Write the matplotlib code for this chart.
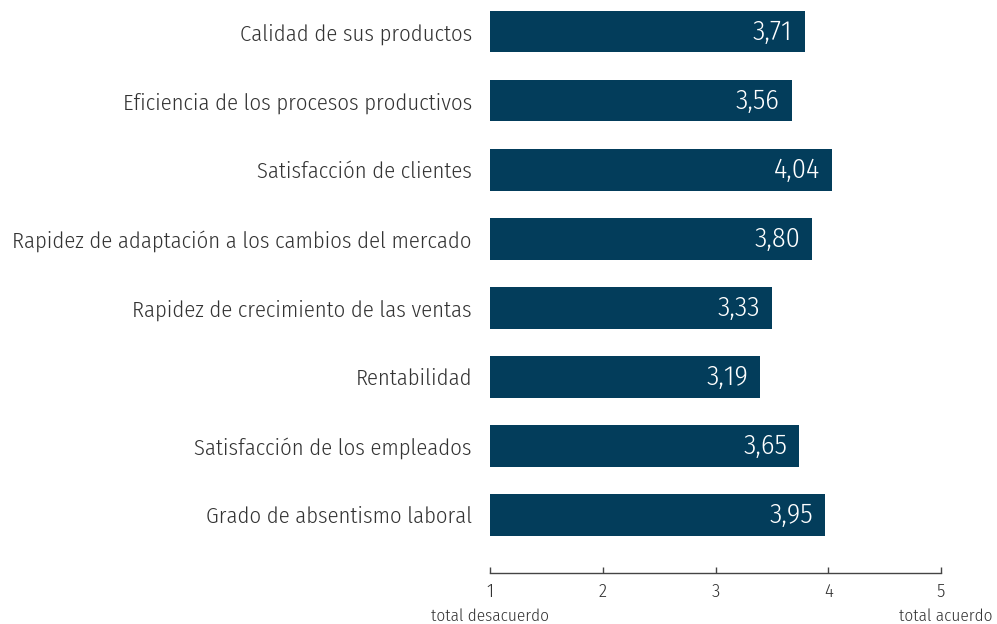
import matplotlib
matplotlib.use("Agg")
import matplotlib.pyplot as plt
import matplotlib.transforms as mtransforms
from matplotlib import font_manager
from matplotlib.font_manager import FontProperties

categories = [
    "Calidad de sus productos",
    "Eficiencia de los procesos productivos",
    "Satisfacción de clientes",
    "Rapidez de adaptación a los cambios del mercado",
    "Rapidez de crecimiento de las ventas",
    "Rentabilidad",
    "Satisfacción de los empleados",
    "Grado de absentismo laboral",
]
values = [3.71, 3.56, 4.04, 3.80, 3.33, 3.19, 3.65, 3.95]
scale_ticks = [1, 2, 3, 4, 5]
scale_ends = ["total desacuerdo", "total acuerdo"]

candidates = ["Open Sans Condensed", "Fira Sans Condensed", "Roboto Condensed",
              "Encode Sans Condensed", "Asap Condensed", "Barlow Semi Condensed",
              "PT Sans Narrow", "Archivo Narrow", "Cabin Condensed"]


def wnum(w):
    if isinstance(w, int):
        return w
    return {"ultralight": 200, "light": 300, "normal": 400, "regular": 400,
            "book": 400, "medium": 500}.get(str(w), 700)


fpath = None
for want in (300, 400):
    for c in candidates:
        for f in font_manager.fontManager.ttflist:
            if f.name == c and f.style == "normal" and wnum(f.weight) == want:
                fpath = f.fname
                break
        if fpath:
            break
    if fpath:
        break


def fp(size):
    if fpath:
        return FontProperties(fname=fpath, size=size)
    return FontProperties(family="DejaVu Sans", size=size)


BAR = "#033d5b"
TXT = "#333333"

W, H = 997, 624
fig = plt.figure(figsize=(W / 100, H / 100), dpi=100)
renderer = fig.canvas.get_renderer()

probe = fig.text(0, 0, categories[3], fontproperties=fp(20))
w20 = probe.get_window_extent(renderer).width
probe.remove()
FS = 20 * 459 / w20
FS_SMALL = FS * 0.76
FS_TICK = FS * 0.84
FS_VAL = FS * 1.25

ax = fig.add_axes([490 / W, (H - 535.7) / H, 451 / W, 524.7 / H])
ax.barh(range(len(categories)), values, height=0.6, left=0, color=BAR)
ax.set_xlim(0, 5.32)
ax.set_ylim(7.3, -0.3)
ax.set_yticks(range(len(categories)))
ax.set_yticklabels(categories, fontproperties=fp(FS), color=TXT)
ax.tick_params(axis="y", length=0, pad=13)
ax.set_xticks([])
for s in ax.spines.values():
    s.set_visible(False)
ax.patch.set_alpha(0)
for i, v in enumerate(values):
    ax.annotate(f"{v:.2f}".replace(".", ","), (v, i), xytext=(-12, 0),
                textcoords="offset pixels", ha="right", va="center",
                color="white", fontproperties=fp(FS_VAL))

ax2 = fig.add_axes([490 / W, (H - 573) / H, 451 / W, 0.01])
ax2.set_xlim(1, 5)
ax2.set_xticks(scale_ticks)
ax2.set_xticklabels([str(t) for t in scale_ticks], fontproperties=fp(FS_TICK), color=TXT)
ax2.set_yticks([])
for k in ["top", "left", "right"]:
    ax2.spines[k].set_visible(False)
ax2.spines["bottom"].set_color("#444444")
ax2.spines["bottom"].set_linewidth(1.0)
ax2.tick_params(axis="x", direction="in", length=4, width=1.0, color="#444444", pad=7)
ax2.patch.set_alpha(0)
tr = mtransforms.blended_transform_factory(ax2.transData, ax2.transAxes)
ax2.annotate(scale_ends[0], (scale_ticks[0], 0), xycoords=tr, xytext=(0, -43),
             textcoords="offset pixels", ha="center", va="center",
             fontproperties=fp(FS_SMALL), color=TXT)
ax2.annotate(scale_ends[1], (scale_ticks[-1], 0), xycoords=tr, xytext=(5, -43),
             textcoords="offset pixels", ha="center", va="center",
             fontproperties=fp(FS_SMALL), color=TXT)

fig.savefig("out.png", dpi=100, facecolor="white")
